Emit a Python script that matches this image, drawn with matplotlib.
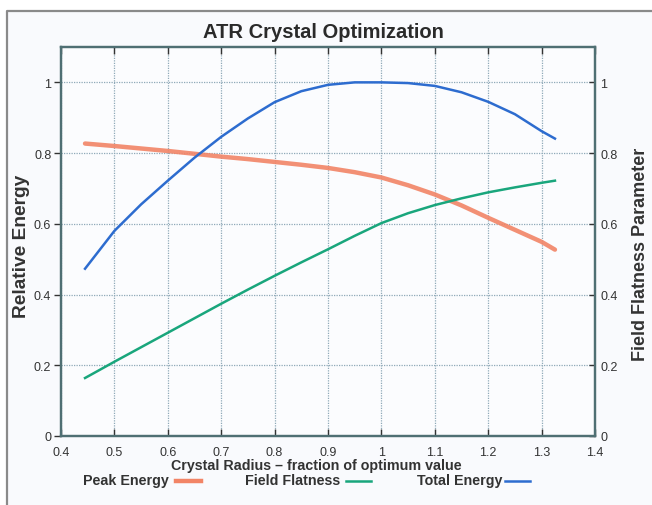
import matplotlib.pyplot as plt
from matplotlib.lines import Line2D
import numpy as np

# crystal radius as a fraction of the optimum value
radius = [0.445, 0.5, 0.55, 0.6, 0.65, 0.7, 0.75, 0.8, 0.85, 0.9, 0.95,
          1.0, 1.05, 1.1, 1.15, 1.2, 1.25, 1.3, 1.325]
peak_energy = [0.827, 0.820, 0.813, 0.806, 0.798, 0.790, 0.783, 0.775, 0.767, 0.758, 0.746,
               0.731, 0.709, 0.683, 0.652, 0.617, 0.583, 0.549, 0.527]
field_flatness = [0.164, 0.210, 0.251, 0.292, 0.333, 0.374, 0.414, 0.453, 0.491, 0.528, 0.566,
                  0.602, 0.630, 0.653, 0.672, 0.689, 0.703, 0.716, 0.722]
total_energy = [0.473, 0.580, 0.655, 0.722, 0.787, 0.846, 0.898, 0.944, 0.975, 0.993, 1.000,
                1.000, 0.998, 0.990, 0.972, 0.945, 0.910, 0.862, 0.841]

c_peak = '#f28466'
c_flat = '#19a67c'
c_total = '#2d6ccf'
c_spine = '#4f6f73'

plt.rcParams['font.family'] = ['Liberation Sans', 'DejaVu Sans']

fig = plt.figure(figsize=(6.52, 5.06), dpi=100, facecolor='#f9fafd')

# outer frame line
fig.add_artist(Line2D([7 / 652, 7 / 652, 1.0], [0.0, 1 - 12 / 506, 1 - 12 / 506],
                      color='#8a8a8a', lw=1.6, transform=fig.transFigure))
fig.patches.append(plt.Rectangle((0, 0), 6 / 652, 1, transform=fig.transFigure,
                                 color='white', zorder=-1))
fig.patches.append(plt.Rectangle((0, 1 - 11 / 506), 1, 11 / 506, transform=fig.transFigure,
                                 color='white', zorder=-1))

L, R, T, B = 61, 595, 48, 437
ax = fig.add_axes([L / 652, 1 - B / 506, (R - L) / 652, (B - T) / 506])
ax.set_facecolor('#fbfcfe')
ax.plot(radius, peak_energy, color=c_peak, lw=3.2, alpha=0.9, solid_capstyle='round')
ax.plot(radius, field_flatness, color=c_flat, lw=1.8)
ax.plot(radius, total_energy, color=c_total, lw=1.8)

ax.set_xlim(0.4, 1.4)
ax.set_ylim(0, 1.1)
ax.set_xticks(np.arange(0.4, 1.41, 0.1))
ax.set_xticklabels(['0.4', '0.5', '0.6', '0.7', '0.8', '0.9', '1', '1.1', '1.2', '1.3', '1.4'])
ax.set_yticks([0, 0.2, 0.4, 0.6, 0.8, 1.0])
ax.set_yticklabels(['0', '0.2', '0.4', '0.6', '0.8', '1'])
ax.grid(True, color='#8fa9b8', ls=(0, (1, 1)), lw=0.9)
ax.tick_params(labelsize=9, colors='#333333', length=5, width=1, pad=2)
ax.tick_params(axis='x', direction='in', top=True, pad=7)
for s in ax.spines.values():
    s.set_color(c_spine)
    s.set_linewidth(1.6)

ax2 = ax.twinx()
ax2.set_ylim(0, 1.1)
ax2.set_yticks([0, 0.2, 0.4, 0.6, 0.8, 1.0])
ax2.set_yticklabels(['0', '0.2', '0.4', '0.6', '0.8', '1'])
ax2.tick_params(labelsize=9, colors='#333333', direction='in', length=4, width=1, pad=4)
for s in ax2.spines.values():
    s.set_color(c_spine)
    s.set_linewidth(1.6)

fig.text(323 / 652, 1 - 33 / 506, 'ATR Crystal Optimization', ha='center', va='center',
         fontsize=14.5, fontweight='bold', color='#2a2a2a')
ax.set_ylabel('Relative Energy', fontsize=13.8, fontweight='bold', color='#333333')
ax.yaxis.set_label_coords((30 - L) / (R - L), 0.49)
ax2.set_ylabel('Field Flatness Parameter', fontsize=13, fontweight='bold', color='#333333')
ax2.yaxis.set_label_coords((632 - L) / (R - L), 0.47)
fig.text(316 / 652, 1 - 466 / 506, 'Crystal Radius \u2013 fraction of optimum value',
         ha='center', va='center', fontsize=10.3, fontweight='bold', color='#333333')

# legend row under the x label
entries = [('Peak Energy', c_peak, 3.2, 83, 176),
           ('Field Flatness', c_flat, 1.8, 245, 346),
           ('Total Energy', c_total, 1.8, 417, 505)]
for label, col, lw, x0, lx in entries:
    fig.text(x0 / 652, 1 - 481 / 506, label, ha='left', va='center',
             fontsize=10.3, fontweight='bold', color='#333333')
    fig.add_artist(Line2D([lx / 652, (lx + 25) / 652], [1 - 482 / 506, 1 - 482 / 506],
                          color=col, lw=lw, transform=fig.transFigure))

fig.savefig('out.png', dpi=100, facecolor=fig.get_facecolor())
